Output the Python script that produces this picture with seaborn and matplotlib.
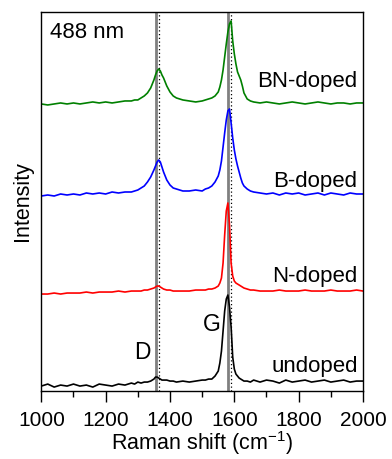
import pandas as pd
import seaborn as sns
import matplotlib.pyplot as plt
from matplotlib.ticker import MultipleLocator

# Raman shift grid (cm-1), denser around D and G bands
shift = [1000, 1020, 1040, 1060, 1080, 1100, 1120, 1140, 1160, 1180, 1200, 1220, 1240, 1260, 1280,
         1290, 1300, 1310, 1320, 1330, 1340, 1350,
         1355, 1360, 1365, 1370, 1375, 1380,
         1390, 1400, 1410, 1420,
         1440, 1460, 1480, 1500,
         1510, 1520, 1530, 1540, 1550,
         1555, 1560, 1565, 1570, 1575, 1580, 1585, 1590, 1595, 1600, 1605, 1610, 1615, 1620, 1625, 1630,
         1640, 1650, 1660,
         1680, 1700, 1720, 1740, 1760, 1780, 1800, 1820, 1840, 1860, 1880, 1900, 1920, 1940, 1960, 1980, 2000]

# offset spectra (arb. units)
undoped = [5, 7, 4, 6, 5, 7, 5, 6, 4, 7, 6, 5, 7, 6, 8,
           7, 9, 8, 9, 9, 10, 12,
           14, 14, 13, 12, 11, 11,
           11, 10, 10, 9,
           10, 9, 10, 11,
           11, 12, 12, 15, 20,
           28, 40, 60, 80, 92, 96, 84, 64, 34, 22, 17, 15, 13, 12, 11, 10,
           10, 9, 11,
           9, 11, 10, 8, 11, 9, 10, 11, 9, 10, 11, 9, 10, 11, 9, 10, 10]

n_doped = [97, 97, 98, 97, 98, 98, 98, 99, 98, 99, 99, 99, 100, 99, 100,
           100, 100, 100, 101, 101, 102, 103,
           104, 105, 105, 104, 103, 102,
           101, 101, 100, 100,
           100, 100, 101, 101,
           101, 102, 102, 103, 105,
           108, 113, 128, 156, 180, 188, 166, 128, 115, 110, 108, 107, 106, 105, 104, 103,
           102, 101, 101,
           100, 100, 100, 101, 100, 100, 100, 101, 100, 100, 100, 101, 100, 100, 100, 101, 100]

b_doped = [195, 196, 195, 197, 196, 197, 196, 198, 197, 198, 197, 199, 198, 199, 199,
           200, 201, 203, 205, 209, 214, 221,
           225, 229, 231, 229, 224, 219,
           211, 206, 203, 202,
           200, 200, 201, 200,
           202, 203, 205, 209, 215,
           221, 230, 244, 258, 271, 280, 282, 268, 253, 241, 232, 225, 219, 213, 208, 205,
           202, 200, 199,
           198, 197, 198, 196, 198, 197, 198, 196, 197, 198, 196, 198, 197, 196, 198, 197, 197]

bn_doped = [287, 286, 287, 288, 287, 288, 287, 288, 289, 288, 289, 288, 289, 290, 290,
            291, 291, 293, 295, 298, 303, 311,
            316, 320, 322, 320, 316, 313,
            305, 299, 295, 293,
            291, 290, 289, 290,
            291, 292, 293, 295, 299,
            304, 311, 321, 334, 347, 359, 367, 370, 350, 337, 327, 319, 315, 311, 305, 298,
            292, 290, 289,
            288, 289, 288, 287, 288, 289, 288, 287, 288, 289, 288, 287, 288, 288, 287, 288, 288]

samples = ['undoped', 'N-doped', 'B-doped', 'BN-doped']
colors = ['black', '#ff0000', '#0000ff', '#008000']
label_y = [19, 109, 204, 304]

df = pd.concat([
    pd.DataFrame({'shift': shift, 'intensity': vals, 'sample': name})
    for name, vals in zip(samples, [undoped, n_doped, b_doped, bn_doped])
])

sns.set_style('white')
plt.rcParams['font.family'] = ['Liberation Sans', 'DejaVu Sans']
plt.rcParams['mathtext.default'] = 'regular'
plt.rcParams['text.color'] = 'black'
plt.rcParams['axes.labelcolor'] = 'black'
plt.rcParams['xtick.color'] = 'black'

fig = plt.figure(figsize=(3.92, 4.59), dpi=100)
ax = fig.add_axes([0.1054, 0.148, 0.8206, 0.826])

# reference lines for D and G positions
for xs in [1358, 1580]:
    ax.axvline(xs, color='#808080', lw=2.0, zorder=1)
for xs in [1366, 1589]:
    ax.axvline(xs, color='black', lw=0.9, ls=(0, (1, 2)), zorder=1)

sns.lineplot(data=df, x='shift', y='intensity', hue='sample', hue_order=samples,
             palette=colors, estimator=None, sort=True, lw=1.2, legend=False,
             ax=ax, zorder=2)

for name, yy in zip(samples, label_y):
    ax.text(1983, yy, name, ha='right', va='baseline', fontsize=16)
ax.text(1027, 353, '488 nm', ha='left', va='baseline', fontsize=16)
ax.text(1530, 60, 'G', ha='center', va='baseline', fontsize=16.5)
ax.text(1313, 32, 'D', ha='center', va='baseline', fontsize=16.5)

ax.set_xlim(1000, 2000)
ax.set_ylim(0, 379)
ax.xaxis.set_major_locator(MultipleLocator(200))
ax.xaxis.set_minor_locator(MultipleLocator(100))
ax.tick_params(axis='x', which='major', direction='out', length=8, width=1,
               labelsize=15, pad=6, bottom=True, colors='black')
ax.tick_params(axis='x', which='minor', direction='out', length=4, width=1, bottom=True)
ax.set_yticks([])
for sp in ax.spines.values():
    sp.set_color('black')
    sp.set_linewidth(1)

ax.set_xlabel('Raman shift (cm$^{-1}$)', fontsize=15.5, labelpad=0)
ax.set_ylabel('Intensity', fontsize=15.5, labelpad=6)

fig.savefig('out.png', dpi=100)
